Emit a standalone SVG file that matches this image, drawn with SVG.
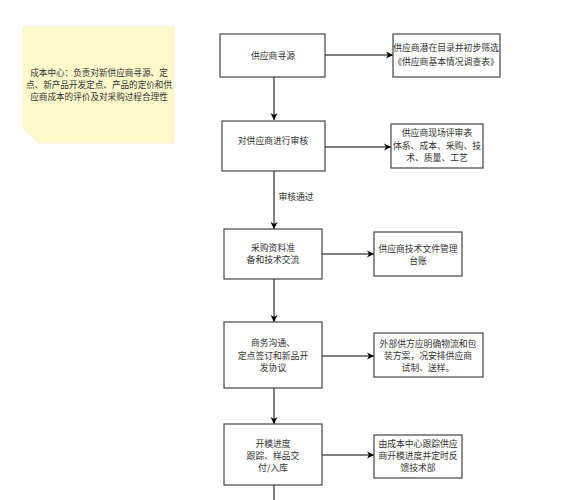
<svg xmlns="http://www.w3.org/2000/svg" width="561" height="500" viewBox="0 0 561 500">
<defs>
<marker id="ah" markerWidth="8" markerHeight="8" refX="7" refY="4" orient="auto" markerUnits="userSpaceOnUse">
<path d="M0,0.5 L7,4 L0,7.5 L2,4 Z" fill="#000"/>
</marker>
<style>
.box{fill:#fff;stroke:#444;stroke-width:1.2}
.t{font-family:"Noto Sans CJK SC","Noto Sans",sans-serif;font-size:8.8px;fill:#333;text-anchor:middle}
.n{font-family:"Noto Sans CJK SC","Noto Sans",sans-serif;font-size:8.6px;fill:#333;text-anchor:middle}
.c{fill:none;stroke:#000;stroke-width:1}
</style>
</defs>
<rect width="561" height="500" fill="#fff"/>
<g id="note">
<path d="M23,27 L174,27 L174,143 L39,143 L23,128 Z" fill="#fff9cc" stroke="#f3ecc0" stroke-width="0.6"/>
<text class="n" x="99" y="76">成本中心：负责对新供应商寻源、定</text>
<text class="n" x="99" y="88">点、新产品开发定点、产品的定价和供</text>
<text class="n" x="99" y="100">应商成本的评价及对采购过程合理性</text>
</g>
<g id="connectors">
<line class="c" x1="274" y1="77" x2="274" y2="120" marker-end="url(#ah)"/>
<line class="c" x1="274" y1="171" x2="274" y2="229" marker-end="url(#ah)"/>
<line class="c" x1="274" y1="279" x2="274" y2="322" marker-end="url(#ah)"/>
<line class="c" x1="274" y1="388" x2="274" y2="424" marker-end="url(#ah)"/>
<line class="c" x1="274" y1="485" x2="274" y2="500"/>
<line class="c" x1="325" y1="55" x2="393" y2="55" marker-end="url(#ah)"/>
<line class="c" x1="325" y1="147" x2="391" y2="147" marker-end="url(#ah)"/>
<line class="c" x1="322" y1="254" x2="374" y2="254" marker-end="url(#ah)"/>
<line class="c" x1="322" y1="356" x2="374" y2="356" marker-end="url(#ah)"/>
<line class="c" x1="322" y1="455" x2="374" y2="455" marker-end="url(#ah)"/>
<text class="t" x="296" y="200">审核通过</text>
</g>
<g id="n1">
<rect class="box" x="220" y="34" width="105" height="43"/>
<text class="t" x="273" y="59">供应商寻源</text>
</g>
<g id="r1">
<rect class="box" x="393" y="34" width="107" height="43"/>
<text class="t" x="446" y="51">供应商潜在目录并初步筛选</text>
<text class="t" x="446" y="65">《供应商基本情况调查表》</text>
</g>
<g id="n2">
<rect class="box" x="222" y="121" width="103" height="50"/>
<text class="t" x="273" y="144">对供应商进行审核</text>
</g>
<g id="r2">
<rect class="box" x="391" y="124" width="92" height="44"/>
<text class="t" x="437" y="136">供应商现场评审表</text>
<text class="t" x="437" y="149">体系、成本、采购、技</text>
<text class="t" x="437" y="161">术、质量、工艺</text>
</g>
<g id="n3">
<rect class="box" x="224" y="229" width="98" height="50"/>
<text class="t" x="273" y="251">采购资料准</text>
<text class="t" x="273" y="263">备和技术交流</text>
</g>
<g id="r3">
<rect class="box" x="374" y="232" width="88" height="44"/>
<text class="t" x="418" y="252">供应商技术文件管理</text>
<text class="t" x="418" y="264">台账</text>
</g>
<g id="n4">
<rect class="box" x="224" y="322" width="98" height="66"/>
<text class="t" x="273" y="346">商务沟通、</text>
<text class="t" x="273" y="359">定点签订和新品开</text>
<text class="t" x="273" y="371">发协议</text>
</g>
<g id="r4">
<rect class="box" x="374" y="333" width="109" height="44"/>
<text class="t" x="428" y="347">外部供方应明确物流和包</text>
<text class="t" x="428" y="359">装方案，况安排供应商</text>
<text class="t" x="428" y="371">试制、送样。</text>
</g>
<g id="n5">
<rect class="box" x="224" y="424" width="98" height="61"/>
<text class="t" x="273" y="447">开模进度</text>
<text class="t" x="273" y="459">跟踪、样品交</text>
<text class="t" x="273" y="471">付/入库</text>
</g>
<g id="r5">
<rect class="box" x="374" y="435" width="88" height="43"/>
<text class="t" x="418" y="447">由成本中心跟踪供应</text>
<text class="t" x="418" y="459">商开模进度并定时反</text>
<text class="t" x="418" y="471">馈技术部</text>
</g>
</svg>
